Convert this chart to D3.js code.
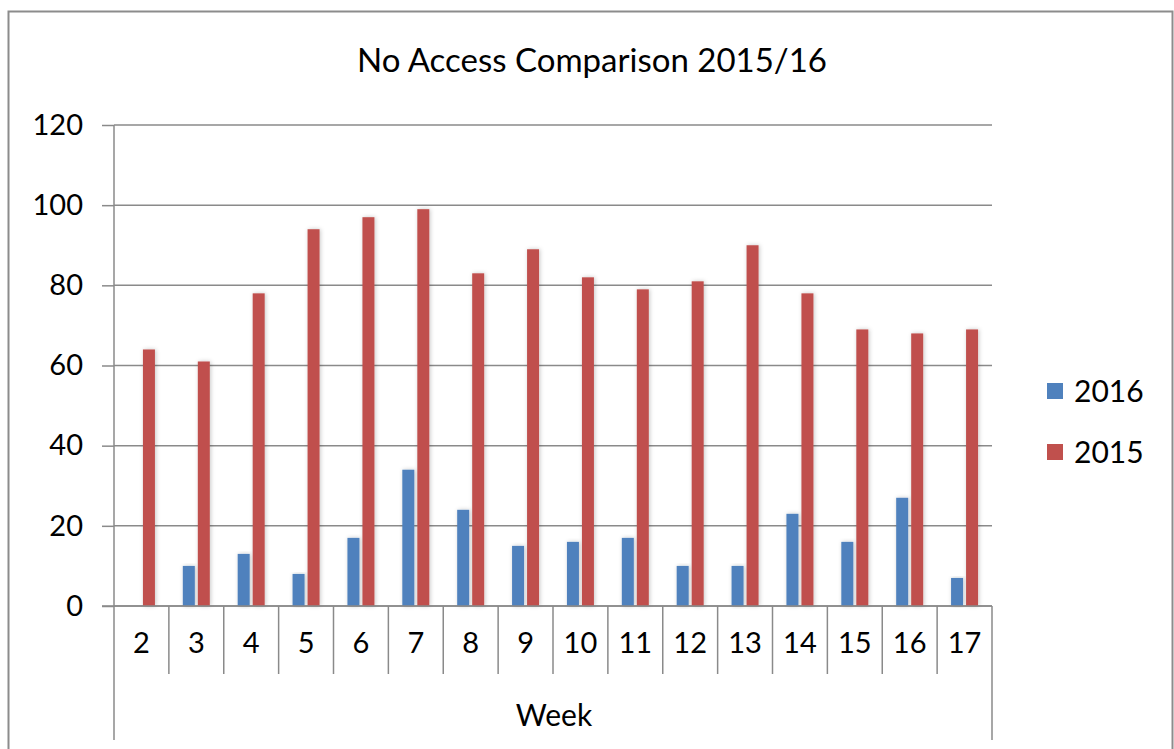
<!DOCTYPE html>
<html>
<head>
<meta charset="utf-8">
<script src="https://cdn.jsdelivr.net/npm/d3@7"></script>
<style>
  html, body { margin: 0; padding: 0; background: #fff; }
  svg { display: block; font-family: Lato, "Open Sans", sans-serif; }
</style>
</head>
<body>
<div id="chart"></div>
<script>
// data
var weeks = ["2", "3", "4", "5", "6", "7", "8", "9", "10", "11", "12", "13", "14", "15", "16", "17"];
var series = ["2016", "2015"];
var values2016 = [0, 10, 13, 8, 17, 34, 24, 15, 16, 17, 10, 10, 23, 16, 27, 7];
var values2015 = [64, 61, 78, 94, 97, 99, 83, 89, 82, 79, 81, 90, 78, 69, 68, 69];
var yTicks = [0, 20, 40, 60, 80, 100, 120];
var colors = ["#4f81bd", "#c0504d"];

var W = 1174, H = 749;
var margin = {top: 125, left: 114, right: 182, bottom: 143};
var width = W - margin.left - margin.right,   // 878
    height = H - margin.top - margin.bottom;  // 481

var svg = d3.select("#chart").append("svg")
    .attr("width", W)
    .attr("height", H);

// soft shadow like the office chart
var defs = svg.append("defs");
var f = defs.append("filter").attr("id", "shadow")
    .attr("x", "-60%").attr("y", "-5%").attr("width", "220%").attr("height", "110%");
f.append("feDropShadow")
    .attr("dx", 1).attr("dy", 0)
    .attr("stdDeviation", 2.2)
    .attr("flood-color", "#000")
    .attr("flood-opacity", 0.22);

// outer border
svg.append("rect")
    .attr("x", 8.5).attr("y", 11.5)
    .attr("width", 1164).attr("height", 760)
    .attr("fill", "none")
    .attr("stroke", "#8c8c8c")
    .attr("stroke-width", 2);

// title
svg.append("text")
    .attr("x", 592).attr("y", 72)
    .attr("text-anchor", "middle")
    .attr("font-size", 33)
    .attr("fill", "#000")
    .text("No Access Comparison 2015/16");

var g = svg.append("g")
    .attr("transform", "translate(" + margin.left + "," + margin.top + ")");

var x = d3.scaleBand()
    .domain(weeks)
    .range([0, width])
    .padding(0);

var bw = x.bandwidth();
var x1 = d3.scaleBand()
    .domain(series)
    .range([bw / 2 - 13.5, bw / 2 + 13.5])
    .paddingInner(0.2)
    .paddingOuter(0);

var y = d3.scaleLinear()
    .domain([0, 120])
    .range([height, 0]);

// Y axis with gridlines
var yAxis = g.append("g")
    .call(d3.axisLeft(y).tickValues(yTicks).tickSize(12).tickPadding(19));
yAxis.select(".domain").remove();
yAxis.selectAll(".tick line")
    .attr("stroke", "#8a8a8a").attr("stroke-width", 1.5);
yAxis.selectAll(".tick text")
    .attr("font-size", 29).attr("fill", "#000")
    .attr("font-family", "Lato, sans-serif");

g.append("g")
    .selectAll("line")
    .data(yTicks)
    .enter()
    .append("line")
      .attr("x1", 0).attr("x2", width)
      .attr("y1", function(d) { return y(d); })
      .attr("y2", function(d) { return y(d); })
      .attr("stroke", "#8a8a8a")
      .attr("stroke-width", 1.5);

// vertical axis line
g.append("line")
    .attr("x1", 0).attr("x2", 0)
    .attr("y1", 0).attr("y2", height)
    .attr("stroke", "#8a8a8a").attr("stroke-width", 1.5);

// bars
var rows = weeks.map(function(w, i) {
  return {week: w, vals: [values2016[i], values2015[i]]};
});

var groups = g.append("g")
    .selectAll("g")
    .data(rows)
    .enter()
    .append("g")
      .attr("transform", function(d) { return "translate(" + x(d.week) + ",0)"; });

groups.selectAll("rect")
    .data(function(d) {
      return series.map(function(s, j) { return {key: s, value: d.vals[j], i: j}; });
    })
    .enter()
    .filter(function(d) { return d.value > 0; })
    .append("rect")
      .attr("x", function(d) { return x1(d.key); })
      .attr("y", function(d) { return y(d.value); })
      .attr("width", x1.bandwidth())
      .attr("height", function(d) { return height - y(d.value); })
      .attr("fill", function(d) { return colors[d.i]; })
      .attr("filter", "url(#shadow)");

// category axis: labels inside boxes, separators extend below
var xAxis = g.append("g")
    .attr("transform", "translate(0," + height + ")");

xAxis.append("line")
    .attr("x1", -12).attr("x2", width)
    .attr("y1", 0).attr("y2", 0)
    .attr("stroke", "#8a8a8a").attr("stroke-width", 1.5);

var bounds = weeks.map(function(w) { return x(w); }).concat([width]);
xAxis.selectAll(".sep")
    .data(bounds)
    .enter()
    .append("line")
      .attr("class", "sep")
      .attr("x1", function(d) { return d; })
      .attr("x2", function(d) { return d; })
      .attr("y1", 0)
      .attr("y2", function(d, i) { return (i === 0 || i === bounds.length - 1) ? 134 : 68; })
      .attr("stroke", "#8a8a8a").attr("stroke-width", 1.5);

xAxis.selectAll(".wk")
    .data(weeks)
    .enter()
    .append("text")
      .attr("class", "wk")
      .attr("x", function(d) { return x(d) + bw / 2; })
      .attr("y", 47)
      .attr("text-anchor", "middle")
      .attr("font-size", 29)
      .attr("fill", "#000")
      .text(function(d) { return d; });

xAxis.append("text")
    .attr("x", width / 2 + 1)
    .attr("y", 120)
    .attr("text-anchor", "middle")
    .attr("font-size", 30)
    .attr("fill", "#000")
    .text("Week");

// legend
var legend = svg.append("g")
    .attr("transform", "translate(1047,391)");

var li = legend.selectAll("g")
    .data(series)
    .enter()
    .append("g")
      .attr("transform", function(d, i) { return "translate(0," + (i * 61) + ")"; });

li.append("rect")
    .attr("x", 0).attr("y", -8)
    .attr("width", 16).attr("height", 16)
    .attr("fill", function(d, i) { return colors[i]; });

li.append("text")
    .attr("x", 27).attr("y", 11)
    .attr("font-size", 30)
    .attr("fill", "#000")
    .text(function(d) { return d; });
</script>
</body>
</html>
